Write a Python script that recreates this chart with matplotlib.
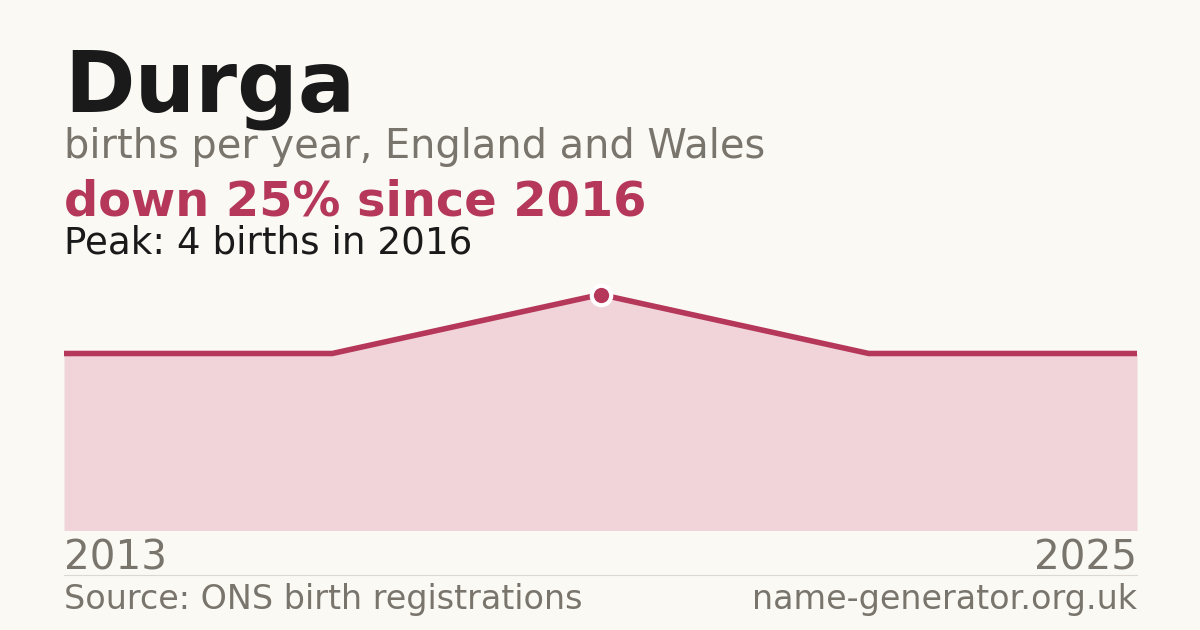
import matplotlib
matplotlib.use("Agg")
import matplotlib.pyplot as plt

# data
name = "Durga"
years = [2013, 2015, 2016, 2017, 2025]
births = [3, 3, 4, 3, 3]
peak_year = 2016
peak_births = 4

bg = "#faf9f4"
crimson = "#b5375a"
fill = "#f1d4da"
grey = "#79746c"
dark = "#1a1a1a"

W, H = 1200, 630
fig = plt.figure(figsize=(W / 100, H / 100), dpi=100, facecolor=bg)

def fy(px):
    return (H - px) / H

# chart area
left, right, base = 64, 1137, 530.5
ytop = 4.25
ax = fig.add_axes([left / W, fy(base), (right - left) / W, ytop * 59 / H])
ax.set_facecolor(bg)
xs = list(range(len(years)))
ax.fill_between(xs, births, 0, color=fill, linewidth=0)
ax.plot(xs, births, color=crimson, lw=4, solid_capstyle="butt", solid_joinstyle="miter")
pi = years.index(peak_year)
ax.plot(xs[pi], births[pi], "o", ms=14, mfc=crimson, mec="white", mew=3, zorder=5)
ax.set_xlim(xs[0], xs[-1])
ax.set_ylim(0, ytop)
ax.axis("off")

# titles
fig.text(left / W, fy(112), name, fontsize=61.2, fontweight="bold", color=dark, va="baseline")
fig.text(left / W, fy(158), "births per year, England and Wales", fontsize=28.7, color=grey, va="baseline")
last = births[-1]
change = round((peak_births - last) / peak_births * 100)
fig.text(left / W, fy(215), f"down {change}% since {peak_year}", fontsize=34.5, fontweight="bold",
         color=crimson, va="baseline")
fig.text(left / W, fy(253), f"Peak: {peak_births} births in {peak_year}", fontsize=26.8, color=dark,
         va="baseline")

# x labels
fig.text(left / W, fy(570), str(years[0]), fontsize=29.2, color=grey, va="baseline", ha="left")
fig.text(right / W, fy(570), str(years[-1]), fontsize=29.2, color=grey, va="baseline", ha="right")

# footer
fig.add_artist(plt.Line2D([left / W, right / W], [fy(574.5), fy(574.5)], color="#dcd9d2", lw=0.8))
fig.text(left / W, fy(609), "Source: ONS birth registrations", fontsize=24, color=grey, va="baseline")
fig.text(right / W, fy(609), "name-generator.org.uk", fontsize=24, color=grey, va="baseline", ha="right")

fig.savefig("out.png", dpi=100, facecolor=bg)
